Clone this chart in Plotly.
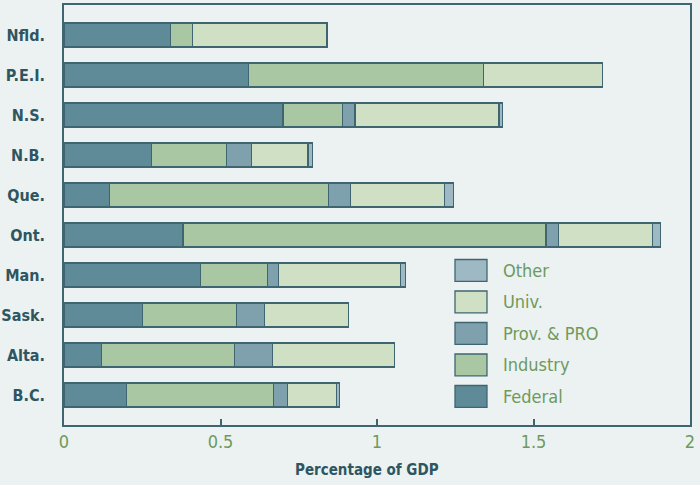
import plotly.graph_objects as go

provinces = ["Nfld.", "P.E.I.", "N.S.", "N.B.", "Que.", "Ont.", "Man.", "Sask.", "Alta.", "B.C."]
federal  = [0.34, 0.59, 0.70, 0.28, 0.145, 0.38, 0.435, 0.25, 0.12, 0.20]
industry = [0.07, 0.75, 0.19, 0.24, 0.70, 1.16, 0.215, 0.30, 0.425, 0.47]
prov_pro = [0.00, 0.00, 0.04, 0.08, 0.07, 0.04, 0.035, 0.09, 0.12, 0.045]
univ     = [0.43, 0.38, 0.46, 0.18, 0.30, 0.30, 0.39, 0.27, 0.39, 0.155]
other    = [0.00, 0.00, 0.01, 0.015, 0.03, 0.025, 0.015, 0.00, 0.00, 0.01]
x_ticks = [0, 0.5, 1, 1.5, 2]
x_tick_labels = ["0", "0.5", "1", "1.5", "2"]

series = [
    ("Federal", federal, "#5f8b98"),
    ("Industry", industry, "#a9c7a2"),
    ("Prov. & PRO", prov_pro, "#7fa1ad"),
    ("Univ.", univ, "#cfe0c5"),
    ("Other", other, "#9fb9c4"),
]

edge = "#3f6670"
label_col = "#2e5661"
green_txt = "#6e9a5b"
bg = "#ecf1f2"
narrow = "DejaVu Sans Condensed, Liberation Sans Narrow, Liberation Sans, sans-serif"

fig = go.Figure()
for name, vals, col in series:
    fig.add_trace(go.Bar(
        y=provinces, x=vals, name=name, orientation="h",
        marker=dict(color=col, line=dict(color=edge, width=1.3)),
        width=0.6, showlegend=False,
    ))

# custom legend (top to bottom: Other ... Federal)
leg_items = list(reversed(series))
top_c = 0.368
pitch = 0.075
for i, (name, vals, col) in enumerate(leg_items):
    yc = top_c - i * pitch
    fig.add_shape(type="rect", xref="paper", yref="paper",
                  x0=0.6246, x1=0.6757, y0=yc - 0.026, y1=yc + 0.026,
                  fillcolor=col, line=dict(color=edge, width=1.3))
    fig.add_annotation(xref="paper", yref="paper", x=0.698, y=yc,
                       text=name, showarrow=False, xanchor="left", yanchor="middle",
                       font=dict(family=narrow, size=18, color=green_txt))

fig.add_annotation(xref="paper", yref="paper", x=0.484, y=-0.107,
                   text="<b>Percentage of GDP</b>", showarrow=False,
                   xanchor="center", yanchor="middle",
                   font=dict(family=narrow, size=15, color=label_col))

fig.update_layout(
    width=700, height=485,
    margin=dict(l=64, r=10, t=5, b=60),
    paper_bgcolor=bg, plot_bgcolor=bg,
    barmode="stack",
    xaxis=dict(
        range=[0, 2], tickvals=x_ticks, ticktext=x_tick_labels,
        showgrid=False, zeroline=False, automargin=False,
        showline=True, linecolor=edge, linewidth=1.5, mirror=True,
        ticks="inside", ticklen=6, tickcolor=edge, tickwidth=1.5,
        tickfont=dict(family=narrow, size=18, color=green_txt),
    ),
    yaxis=dict(
        categoryorder="array", categoryarray=provinces,
        range=[9.75, -0.75], automargin=False,
        showgrid=False, zeroline=False,
        showline=True, linecolor=edge, linewidth=1.5, mirror=True,
        ticks="", ticklabelstandoff=14,
        tickfont=dict(family=narrow, size=16, color=label_col, weight="bold"),
    ),
)

fig.write_html("out.html", config={"displayModeBar": False},
               post_script="document.body.style.margin='0';")
